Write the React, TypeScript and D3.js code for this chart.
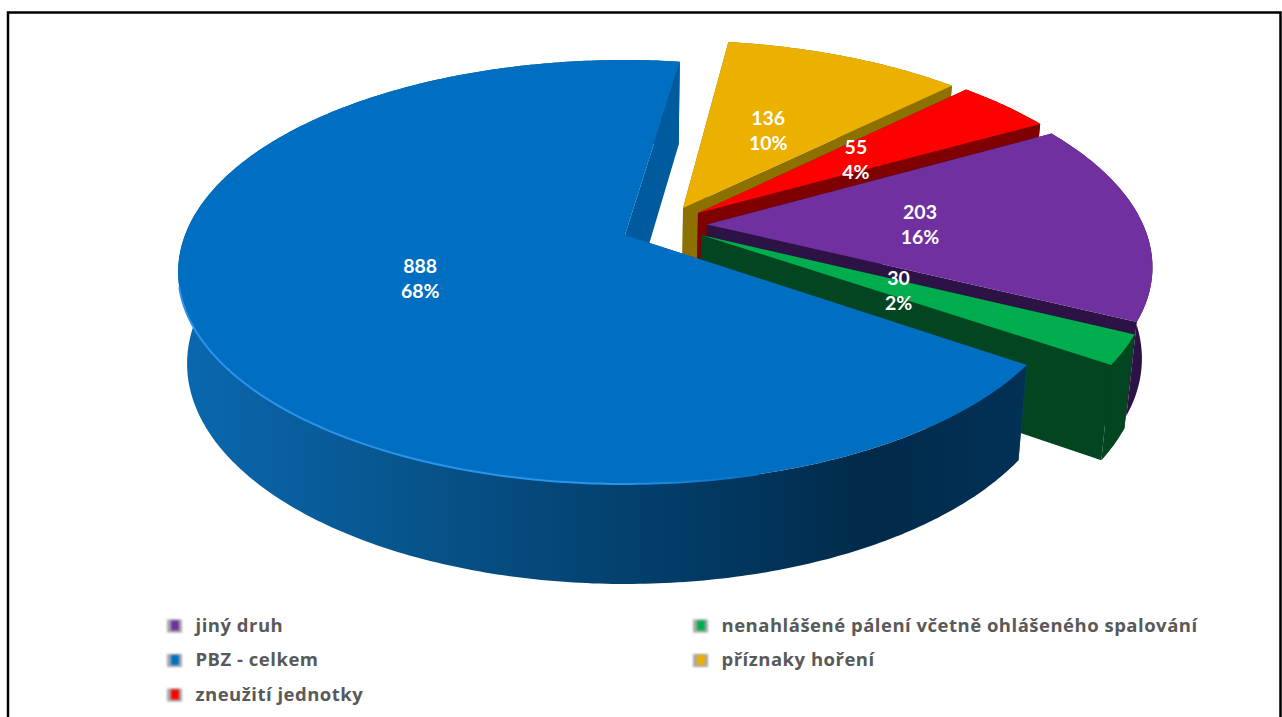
import React from "react";
import * as d3 from "d3";

const categories = ["jiný druh", "nenahlášené pálení včetně ohlášeného spalování", "PBZ - celkem", "příznaky hoření", "zneužití jednotky"];
const values = [203, 30, 888, 136, 55];
const percents = ["16%", "2%", "68%", "10%", "4%"];
const topColors = ["#7030a0", "#00ad4e", "#006fc1", "#ebb000", "#ff0000"];
const wallColors = ["#2d1245", "#034520", "#005a9e", "#8c7000", "#7f0000"];
const explodeX = [0.188, 0.173, 0, 0.135, 0.169];
const explodeY = [-0.052, 0, 0, -0.134, -0.109];
const drawOrder = [3, 4, 0, 1, 2];
const legendCols = [0, 1, 0, 1, 0];
const legendRows = [0, 0, 1, 1, 2];

const W = 1282, H = 717;
const AX = 625, AY = 235, RX = 440, RY = 205.5, K = 0.1746;
const WALL_X = 0.98, WALL_Y = d3.scaleLinear().domain([60, 484]).range([143, 584]);
const START = (60.8 * Math.PI) / 180;
const LABEL_R = 0.49;

type P = [number, number];
const project = (X: number, Y: number): P => {
  const s = 1 / (1 - K * Y);
  return [AX + RX * X * s, AY + RY * Y * s];
};
const down = ([x, y]: P): P => [AX + (x - AX) * WALL_X, WALL_Y(y)];
const path = (pts: P[]) => (d3.line()(pts) as string) + "Z";

const pie = d3.pie<number>().sort(null).startAngle(START).endAngle(START + 2 * Math.PI);
const arcs = pie(values);

function slice(i: number) {
  const a = arcs[i];
  const ox = explodeX[i], oy = explodeY[i];
  const n = Math.max(8, Math.round((a.endAngle - a.startAngle) * 80));
  const rim: P[] = d3.range(n + 1).map((k) => {
    const t = a.startAngle + ((a.endAngle - a.startAngle) * k) / n;
    return project(ox + Math.sin(t), oy - Math.cos(t));
  });
  const apex = project(ox, oy);
  const mid = (a.startAngle + a.endAngle) / 2;
  const label = project(ox + LABEL_R * Math.sin(mid), oy - LABEL_R * Math.cos(mid));
  return { rim, apex, label };
}

const slices = values.map((_, i) => slice(i));

export default function App() {
  return (
    <svg width={W} height={H} style={{ position: "absolute", left: 0, top: 0, background: "#fff" }}>
      <defs>
        <linearGradient id="blueWall" gradientUnits="userSpaceOnUse" x1={178} x2={1023} y1={0} y2={0}>
          <stop offset="0" stopColor="#0a68b0" />
          <stop offset="0.25" stopColor="#07568f" />
          <stop offset="0.55" stopColor="#033f6c" />
          <stop offset="0.82" stopColor="#012a4a" />
          <stop offset="1" stopColor="#023156" />
        </linearGradient>
        <linearGradient id="blueRim" gradientUnits="userSpaceOnUse" x1={178} x2={760} y1={0} y2={0}>
          <stop offset="0" stopColor="#2a93ee" />
          <stop offset="0.75" stopColor="#2a93ee" />
          <stop offset="1" stopColor="#006fc1" />
        </linearGradient>
        <filter id="soft" x="-30%" y="-30%" width="160%" height="160%"><feGaussianBlur stdDeviation="0.8" /></filter>
      </defs>
      <path d={`M8 ${H}V12.5H1280.5V${H}`} fill="none" stroke="#000" strokeWidth={2.5} />
      {drawOrder.map((i) => {
        const { rim, apex } = slices[i];
        const outer = path([...rim, ...rim.map(down).reverse()]);
        const first = rim[0], last = rim[rim.length - 1];
        const wall = wallColors[i];
        return (
          <g key={i}>
            <path d={path([apex, first, down(first), down(apex)])} fill={wall} />
            <path d={outer} fill={i === 2 ? "url(#blueWall)" : wall} />
            <path d={path([apex, last, down(last), down(apex)])} fill={wall} />
            <path d={path([apex, ...rim])} fill={topColors[i]} />
            {i === 2 && (
              <path d={d3.line()(rim.filter((p) => p[1] > 285 && p[0] < 760)) as string} fill="none" stroke="url(#blueRim)" strokeWidth={2} />
            )}
          </g>
        );
      })}
      {slices.map(({ label }, i) => (
        <text key={i} x={label[0]} y={label[1]} textAnchor="middle" fill="#fff" fontFamily="Lato" fontWeight={700} fontSize={19.5}>
          <tspan x={label[0]} dy={-3.5}>{values[i]}</tspan>
          <tspan x={label[0]} dy={25}>{percents[i]}</tspan>
        </text>
      ))}
      {categories.map((c, i) => {
        const x = legendCols[i] === 0 ? 167 : 693;
        const y = 625.5 + legendRows[i] * 34.5;
        return (
          <g key={c}>
            <rect x={x} y={y - 6} width={15} height={13} fill="#a8a8a8" filter="url(#soft)" />
            <rect x={x + 4} y={y - 5} width={8} height={10} fill={topColors[i]} filter="url(#soft)" />
            <text x={x + 28.5} y={y + 6} fill="#595959" fontFamily="Open Sans" fontWeight={700} fontSize={18.5} letterSpacing={0.5}>{c}</text>
          </g>
        );
      })}
    </svg>
  );
}
